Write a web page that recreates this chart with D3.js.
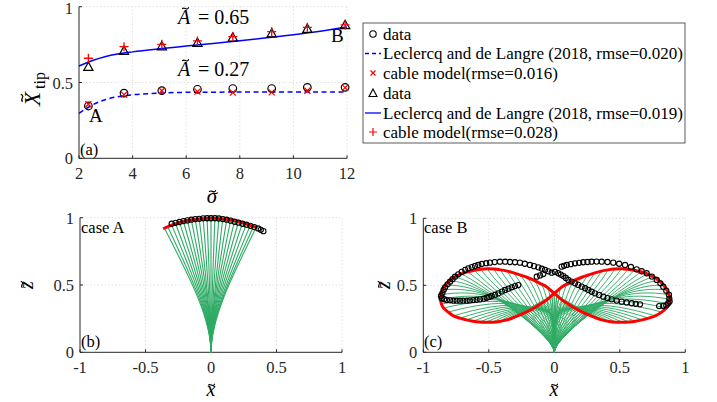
<!DOCTYPE html>
<html><head><meta charset="utf-8">
<script src="https://cdn.jsdelivr.net/npm/d3@7"></script>
<style>
body{margin:0;background:#fff;}
svg{display:block;}
</style></head>
<body><svg id="c" width="717" height="402" font-family="'Liberation Serif', 'Times New Roman', Times, 'Nimbus Roman', FreeSerif, 'DejaVu Serif', serif"></svg>
<script>
// ---------- Panel (a) data ----------
const sigmaTicks = [2,4,6,8,10,12];
const unitTicks = [0,0.5,1];
const sigmaPts = [2.35,3.68,5.09,6.42,7.74,9.19,10.52,11.93];
const dataLow   = [0.345,0.43,0.446,0.455,0.46,0.46,0.468,0.468];
const cableLow  = [0.356,0.42,0.446,0.44,0.433,0.435,0.446,0.466];
const dataHigh  = [0.604,0.71,0.74,0.763,0.798,0.825,0.855,0.88];
const cableHigh = [0.66,0.736,0.752,0.774,0.802,0.835,0.864,0.88];
const fitLowSigma = [2,2.5,3,3.5,4,5,6,8,10,12];
const fitLow      = [0.297,0.352,0.388,0.408,0.419,0.43,0.435,0.437,0.438,0.438];
const fitHighSigma = [2,2.5,3,3.5,4,5,6,7,8,9,10,11,12];
const fitHigh      = [0.609,0.645,0.672,0.69,0.702,0.722,0.74,0.758,0.776,0.795,0.815,0.838,0.866];
const legendLabels = ["data","Leclercq and de Langre (2018, rmse=0.020)","cable model(rmse=0.016)",
                      "data","Leclercq and de Langre (2018, rmse=0.019)","cable model(rmse=0.028)"];
// ---------- Panel (b) data ----------
const xTicks = [-1,-0.5,0,0.5,1];
const bTipX = [-0.355,-0.33,-0.30,-0.27,-0.24,-0.21,-0.18,-0.15,-0.12,-0.09,-0.06,-0.03,0.0,0.03,0.06,0.09,0.12,0.15,0.18,0.21,0.24,0.27,0.30,0.325,0.345];
const bTipY = [0.922,0.933,0.945,0.955,0.963,0.97,0.976,0.982,0.986,0.99,0.993,0.995,0.996,0.995,0.993,0.99,0.986,0.981,0.975,0.968,0.96,0.952,0.943,0.935,0.928];
const bModelX = [-0.365,-0.3,-0.2,-0.1,0,0.1,0.2,0.3,0.355];
const bModelY = [0.918,0.945,0.975,0.99,0.996,0.99,0.975,0.943,0.925];
const bDataX = [-0.30,-0.27,-0.24,-0.21,-0.18,-0.15,-0.12,-0.09,-0.06,-0.03,0,0.03,0.06,0.09,0.12,0.15,0.18,0.21,0.24,0.27,0.30,0.33,0.36,0.38,0.40];
const bDataY = [0.955,0.962,0.968,0.975,0.98,0.985,0.99,0.992,0.995,0.996,0.996,0.996,0.994,0.99,0.985,0.978,0.97,0.963,0.955,0.948,0.94,0.93,0.92,0.91,0.90];
// ---------- Panel (c) data ----------
const cModelX = [0,0.03,0.06,0.11,0.16,0.21,0.26,0.31,0.36,0.41,0.46,0.51,0.56,0.61,0.66,0.71,0.76,0.80,0.835,0.86,0.876,0.883,0.875,0.855,0.82,0.77,0.72,0.67,0.62,0.57,0.52,0.47,0.42,0.37,0.32,0.27,0.22,0.17,0.12,0.07,0.035,
                 0,-0.03,-0.06,-0.11,-0.16,-0.21,-0.26,-0.31,-0.36,-0.41,-0.46,-0.51,-0.56,-0.61,-0.66,-0.71,-0.76,-0.80,-0.835,-0.855,-0.866,-0.868,-0.862,-0.845,-0.81,-0.77,-0.72,-0.67,-0.62,-0.57,-0.52,-0.47,-0.42,-0.37,-0.32,-0.27,-0.22,-0.17,-0.12,-0.07,-0.035];
const cModelY = [0.44,0.465,0.49,0.515,0.54,0.56,0.577,0.593,0.606,0.615,0.621,0.623,0.62,0.613,0.601,0.585,0.563,0.535,0.50,0.465,0.43,0.395,0.36,0.33,0.30,0.272,0.255,0.242,0.232,0.226,0.224,0.225,0.23,0.24,0.256,0.276,0.298,0.322,0.352,0.383,0.41,
                 0.44,0.465,0.49,0.515,0.54,0.56,0.577,0.593,0.606,0.615,0.621,0.623,0.62,0.613,0.601,0.585,0.563,0.535,0.50,0.465,0.43,0.395,0.36,0.33,0.30,0.272,0.255,0.242,0.232,0.226,0.224,0.225,0.23,0.24,0.256,0.276,0.298,0.322,0.352,0.383,0.41];
const cDataX = [-0.865,-0.855,-0.845,-0.834,-0.815,-0.796,-0.777,-0.758,-0.733,-0.707,-0.68,-0.656,-0.63,-0.605,-0.58,-0.554,-0.52,-0.491,-0.455,-0.415,-0.375,-0.338,-0.30,-0.262,-0.225,-0.186,-0.155,-0.122,-0.095,-0.071,-0.045,-0.02,
  0.005,0.03,0.05,0.069,0.088,0.107,0.132,0.158,0.183,0.209,0.235,0.26,0.285,0.31,0.342,0.374,0.406,0.438,0.476,0.514,0.552,0.591,0.622,0.654,
  0.80,0.832,0.855,0.87,0.88,0.878,0.875,0.855,0.832,0.81,0.782,0.745,0.705,0.667,0.629,0.585,0.54,0.495,0.45,0.406,0.362,0.323,0.285,0.253,0.221,0.19,0.158,0.126,0.095,0.075,0.056,
  -0.084,-0.109,-0.134,
  -0.275,-0.30,-0.325,-0.35,-0.376,-0.40,-0.427,-0.452,-0.478,-0.497,-0.516,-0.54,-0.567,-0.593,-0.618,-0.645,-0.669,-0.695,-0.72,-0.745,-0.77,-0.795,-0.82,-0.84,-0.86];
const cDataY = [0.42,0.44,0.465,0.485,0.507,0.527,0.546,0.564,0.582,0.60,0.615,0.627,0.636,0.644,0.652,0.659,0.665,0.669,0.673,0.676,0.676,0.674,0.672,0.669,0.661,0.652,0.643,0.634,0.624,0.614,0.604,0.594,
  0.60,0.59,0.58,0.569,0.555,0.54,0.528,0.515,0.503,0.49,0.478,0.465,0.452,0.44,0.428,0.415,0.405,0.395,0.386,0.378,0.372,0.366,0.362,0.358,
  0.345,0.346,0.352,0.366,0.38,0.40,0.43,0.46,0.49,0.515,0.54,0.565,0.59,0.605,0.619,0.637,0.652,0.661,0.669,0.674,0.676,0.677,0.676,0.674,0.672,0.668,0.664,0.658,0.652,0.645,0.639,
  0.584,0.574,0.564,
  0.502,0.494,0.485,0.475,0.465,0.453,0.44,0.43,0.42,0.413,0.407,0.40,0.395,0.392,0.39,0.387,0.385,0.385,0.385,0.385,0.385,0.388,0.39,0.396,0.403];

// ---------- drawing ----------
const svg = d3.select("#c");
const FONT = 16.5;
const BLUE = "#0000ff", RED = "#ff0000", GREEN = "#2eab64";

function drawAxes(g, x, y, xt, yt) {
  const [x0,x1] = x.range(), [y0,y1] = y.range();
  const grid = g.append("g").attr("stroke","#d9d9d9").attr("stroke-width",0.8).attr("stroke-dasharray","1.5,2");
  xt.forEach(v => { if (v !== x.domain()[0]) grid.append("line").attr("x1",x(v)).attr("x2",x(v)).attr("y1",y0).attr("y2",y1); });
  yt.forEach(v => { if (v !== y.domain()[0]) grid.append("line").attr("x1",x0).attr("x2",x1).attr("y1",y(v)).attr("y2",y(v)); });
  const ax = g.append("g").attr("stroke","#262626").attr("stroke-width",1);
  ax.append("line").attr("x1",x0).attr("x2",x1).attr("y1",y0).attr("y2",y0);
  ax.append("line").attr("x1",x0).attr("x2",x0).attr("y1",y0).attr("y2",y1);
  xt.forEach(v => ax.append("line").attr("x1",x(v)).attr("x2",x(v)).attr("y1",y0).attr("y2",y0-3));
  yt.forEach(v => ax.append("line").attr("x1",x0).attr("x2",x0+3).attr("y1",y(v)).attr("y2",y(v)));
  xt.forEach(v => g.append("text").attr("x",x(v)).attr("y",y0+21).attr("text-anchor","middle")
     .attr("font-size",FONT).attr("fill","#262626").text(String(v)));
  yt.forEach(v => g.append("text").attr("x",x0-6).attr("y",Math.max(y(v)+6,13.5)).attr("text-anchor","end")
     .attr("font-size",FONT).attr("fill","#262626").text(String(v)));
}

// letter with a tilde drawn above it; (cx, base) = center-x and baseline, in a local frame
function tildeLetter(g, cx, base, letter, size, capH, shift) {
  g.append("text").attr("x",cx).attr("y",base).attr("text-anchor","middle").attr("font-size",size)
    .attr("font-style","italic").text(letter);
  const w = size*0.32, h = size*0.07, ty = base - capH - size*0.12, tx = cx + (shift||0);
  g.append("path").attr("d",`M${tx-w/2},${ty+h*0.6} C${tx-w/4},${ty-h*1.6} ${tx+w/4},${ty+h*2.6} ${tx+w/2},${ty-h*0.6}`)
    .attr("fill","none").attr("stroke","#000").attr("stroke-width",size*0.055);
}

function marker(g, type, cx, cy) {
  if (type === "circle") {
    g.append("circle").attr("cx",cx).attr("cy",cy).attr("r",3.8).attr("fill","none").attr("stroke","#000").attr("stroke-width",1.2);
  } else if (type === "tri") {
    const s = 4.6;
    g.append("path").attr("d",`M${cx},${cy-s}L${cx+s},${cy+s*0.8}L${cx-s},${cy+s*0.8}Z`)
      .attr("fill","none").attr("stroke","#000").attr("stroke-width",1.2);
  } else if (type === "x") {
    const s = 3;
    g.append("path").attr("d",`M${cx-s},${cy-s}L${cx+s},${cy+s}M${cx-s},${cy+s}L${cx+s},${cy-s}`)
      .attr("stroke",RED).attr("stroke-width",1.3);
  } else if (type === "plus") {
    const s = 4.5;
    g.append("path").attr("d",`M${cx-s},${cy}L${cx+s},${cy}M${cx},${cy-s}L${cx},${cy+s}`)
      .attr("stroke",RED).attr("stroke-width",1.3);
  }
}

// ===== Panel (a) =====
{
  const x = d3.scaleLinear().domain([2,12]).range([79,347]);
  const y = d3.scaleLinear().domain([0,1]).range([158.3,6.7]);
  const g = svg.append("g");
  drawAxes(g, x, y, sigmaTicks, unitTicks);
  const line = d3.line().curve(d3.curveMonotoneX);
  g.append("path").attr("d", line(fitLowSigma.map((s,i)=>[x(s),y(fitLow[i])])))
    .attr("fill","none").attr("stroke",BLUE).attr("stroke-width",1.5).attr("stroke-dasharray","5,3.5");
  g.append("path").attr("d", line(fitHighSigma.map((s,i)=>[x(s),y(fitHigh[i])])))
    .attr("fill","none").attr("stroke",BLUE).attr("stroke-width",1.5);
  sigmaPts.forEach((s,i)=>{
    marker(g,"circle",x(s),y(dataLow[i]));
    marker(g,"x",x(s),y(cableLow[i]));
    marker(g,"tri",x(s),y(dataHigh[i]));
    marker(g,"plus",x(s),y(cableHigh[i]));
  });
  [[24,"= 0.65"],[76,"= 0.27"]].forEach(([by,txt])=>{
    tildeLetter(g, 184, by, "A", 20, 13.5, 1.5);
    g.append("text").attr("x",198).attr("y",by).attr("font-size",20).text(txt);
  });
  g.append("text").attr("x",89).attr("y",122).attr("font-size",19).text("A");
  g.append("text").attr("x",331).attr("y",42).attr("font-size",19).text("B");
  g.append("text").attr("x",80).attr("y",155).attr("font-size",FONT).text("(a)");
  tildeLetter(g, 212, 203, "\u03C3", 21, 9.5, 0.5);
  const yl = g.append("g").attr("transform","translate(40,87) rotate(-90)");
  tildeLetter(yl, -12, 0, "X", 23, 15.5, 1);
  yl.append("text").attr("x",-2).attr("y",5).attr("font-size",16).text("tip");

  // legend
  const lg = svg.append("g");
  lg.append("rect").attr("x",363).attr("y",23).attr("width",322).attr("height",120)
    .attr("fill","#fff").attr("stroke","#333").attr("stroke-width",0.8);
  const rows = [34,53.5,73,93,113,132];
  const types = ["circle","dash","x","tri","solid","plus"];
  rows.forEach((ry,i)=>{
    const t = types[i];
    if (t==="dash") lg.append("line").attr("x1",365).attr("x2",381).attr("y1",ry).attr("y2",ry).attr("stroke",BLUE).attr("stroke-width",1.3).attr("stroke-dasharray","4,3");
    else if (t==="solid") lg.append("line").attr("x1",365).attr("x2",381).attr("y1",ry).attr("y2",ry).attr("stroke",BLUE).attr("stroke-width",1.3);
    else if (t==="circle") lg.append("circle").attr("cx",373).attr("cy",ry).attr("r",3.2).attr("fill","none").attr("stroke","#000").attr("stroke-width",1.1);
    else if (t==="tri") lg.append("path").attr("d",`M373,${ry-4}L377,${ry+3.5}L369,${ry+3.5}Z`).attr("fill","none").attr("stroke","#000").attr("stroke-width",1.1);
    else if (t==="x") lg.append("path").attr("d",`M370.5,${ry-2.5}L375.5,${ry+2.5}M370.5,${ry+2.5}L375.5,${ry-2.5}`).attr("stroke",RED).attr("stroke-width",1.2);
    else if (t==="plus") lg.append("path").attr("d",`M369,${ry}L377,${ry}M373,${ry-4}L373,${ry+4}`).attr("stroke",RED).attr("stroke-width",1.2);
    lg.append("text").attr("x",383).attr("y",ry+5.5).attr("font-size",17).attr("fill","#000").text(legendLabels[i]);
  });
}

// cable shape from the clamped base (0,0) to a tip, as a cubic Bezier
function stemPath(x, y, xt, yt, p1y, k2, p2y) {
  const p = d3.path();
  p.moveTo(x(0), y(0));
  p.bezierCurveTo(x(0), y(p1y), x(xt*k2), y(p2y), x(xt), y(yt));
  return p.toString();
}

// ===== Panel (b) =====
{
  const x = d3.scaleLinear().domain([-1,1]).range([80,342]);
  const y = d3.scaleLinear().domain([0,1]).range([352.3,217.7]);
  const g = svg.append("g");
  drawAxes(g, x, y, xTicks, unitTicks);
  const lines = g.append("g").attr("fill","none").attr("stroke",GREEN).attr("stroke-width",1.1);
  bTipX.forEach((xt,i)=> lines.append("path").attr("d", stemPath(x,y,xt,bTipY[i],0.25,0.45,0.55*bTipY[i]/0.92)));
  g.append("path").attr("d", d3.line().curve(d3.curveCatmullRom)(bModelX.map((v,i)=>[x(v),y(bModelY[i])])))
    .attr("fill","none").attr("stroke",RED).attr("stroke-width",3);
  bDataX.forEach((v,i)=> g.append("circle").attr("cx",x(v)).attr("cy",y(bDataY[i])).attr("r",2.6)
    .attr("fill","none").attr("stroke","#000").attr("stroke-width",1.1));
  g.append("text").attr("x",81).attr("y",233).attr("font-size",FONT).text("case A");
  g.append("text").attr("x",81).attr("y",347).attr("font-size",FONT).text("(b)");
  tildeLetter(g, 211, 396, "x", 20, 9, 0.5);
  const zl = g.append("g").attr("transform","translate(33,285) rotate(-90)");
  tildeLetter(zl, 0, 0, "z", 20, 9, 0.5);
}

// ===== Panel (c) =====
{
  const x = d3.scaleLinear().domain([-1,1]).range([423.3,685.3]);
  const y = d3.scaleLinear().domain([0,1]).range([352.3,218.3]);
  const g = svg.append("g");
  drawAxes(g, x, y, xTicks, unitTicks);
  const lines = g.append("g").attr("fill","none").attr("stroke",GREEN).attr("stroke-width",0.95);
  cModelX.forEach((xt,i)=>{
    const yt = cModelY[i];
    const f = Math.max(0, Math.min(1, (yt-0.22)/0.4));
    const k = -0.25 + 1.15*f;
    lines.append("path").attr("d", stemPath(x,y,xt,yt,0.12,k,0.52));
  });
  g.append("path").attr("d", d3.line().curve(d3.curveCatmullRomClosed)(cModelX.map((v,i)=>[x(v),y(cModelY[i])])))
    .attr("fill","none").attr("stroke",RED).attr("stroke-width",3);
  cDataX.forEach((v,i)=> g.append("circle").attr("cx",x(v)).attr("cy",y(cDataY[i])).attr("r",2.6)
    .attr("fill","none").attr("stroke","#000").attr("stroke-width",1.1));
  g.append("text").attr("x",424).attr("y",233).attr("font-size",FONT).text("case B");
  g.append("text").attr("x",424).attr("y",347).attr("font-size",FONT).text("(c)");
  tildeLetter(g, 554, 396, "x", 20, 9, 0.5);
  const zl = g.append("g").attr("transform","translate(390,285) rotate(-90)");
  tildeLetter(zl, 0, 0, "z", 20, 9, 0.5);
}
</script></body></html>
